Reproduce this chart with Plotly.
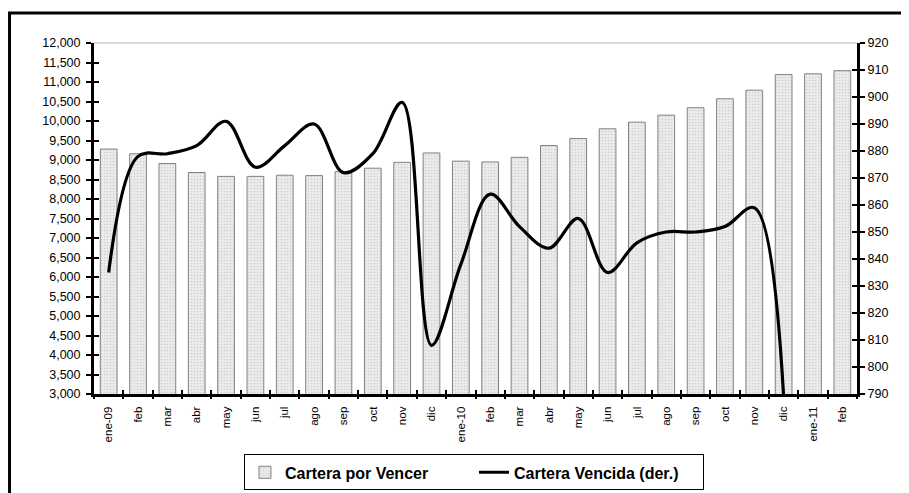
import plotly.graph_objects as go

categories = ["ene-09", "feb", "mar", "abr", "may", "jun", "jul", "ago", "sep", "oct", "nov", "dic",
              "ene-10", "feb", "mar", "abr", "may", "jun", "jul", "ago", "sep", "oct", "nov", "dic",
              "ene-11", "feb"]
cartera_por_vencer = [9280, 9160, 8910, 8680, 8580, 8580, 8610, 8600, 8700, 8790, 8940, 9180,
                      8970, 8950, 9070, 9370, 9550, 9800, 9970, 10150, 10340, 10570, 10790, 11190,
                      11210, 11290]
cartera_vencida = [835, 878, 879, 882, 891, 874, 882, 890, 872, 879, 898, 808,
                   838, 864, 852, 844, 855, 835, 846, 850, 850, 852, 859, 789,
                   None, None]

FONT = "Liberation Sans, Arial, sans-serif"
idx = list(range(len(categories)))
xr = [-0.5, len(categories) - 0.5]
bounds = [i - 0.5 for i in range(len(categories) + 1)]

fig = go.Figure()
fig.add_trace(go.Bar(
    x=idx, y=cartera_por_vencer, name="Cartera por Vencer",
    marker=dict(color="#e6e6e6", line=dict(color="#808080", width=1),
                pattern=dict(shape=".", size=3, solidity=0.25, fgcolor="#b4b4b4", bgcolor="#ececec")),
    yaxis="y",
))
fig.add_trace(go.Scatter(
    x=idx, y=cartera_vencida, name="Cartera Vencida (der.)", mode="lines",
    line=dict(color="black", width=3.2, shape="spline", smoothing=1.0),
    yaxis="y2", connectgaps=False,
))
# helper (empty) traces so the overlay tick axes are drawn
for xa, ya in [("x2", "y"), ("x3", "y"), ("x", "y3"), ("x", "y4")]:
    fig.add_trace(go.Scatter(x=[None], y=[None], xaxis=xa, yaxis=ya, showlegend=False,
                             hoverinfo="skip", mode="lines"))

axis_common = dict(showgrid=False, zeroline=False, automargin=False)
fig.update_layout(
    width=901, height=485,
    margin=dict(l=86, r=52, t=35, b=99, autoexpand=False),
    paper_bgcolor="white", plot_bgcolor="white",
    font=dict(family=FONT, size=12, color="black"),
    bargap=0.43,
    showlegend=True,
    legend=dict(orientation="h", x=0.498, xanchor="center", y=-0.172, yanchor="top",
                bordercolor="black", borderwidth=1,
                font=dict(family=FONT, size=16, color="black", weight="bold"),
                itemwidth=30, entrywidth=184, tracegroupgap=0),
    xaxis=dict(range=xr, tickmode="array", tickvals=idx, ticktext=categories, ticks="",
               tickangle=-90, showline=True, linecolor="black", linewidth=3,
               tickfont=dict(size=11.5), ticklabelstandoff=5, **axis_common),
    xaxis2=dict(overlaying="x", anchor="y", range=xr, tickmode="array", tickvals=bounds,
                ticks="outside", ticklen=4, tickwidth=2, tickcolor="black",
                showticklabels=False, showline=False, **axis_common),
    xaxis3=dict(overlaying="x", anchor="y", range=xr, tickmode="array", tickvals=bounds,
                ticks="inside", ticklen=4, tickwidth=2, tickcolor="black",
                showticklabels=False, showline=False, **axis_common),
    yaxis=dict(range=[3000, 12000], dtick=500, tick0=3000, tickformat=",", ticks="outside",
               ticklen=5, tickwidth=2, tickcolor="black", showline=True, linecolor="black",
               linewidth=3, tickfont=dict(size=12.5), ticklabelstandoff=3, **axis_common),
    yaxis2=dict(overlaying="y", side="right", anchor="x", range=[790, 920], dtick=10, tick0=790,
                ticks="outside", ticklen=5, tickwidth=2, tickcolor="black", showline=True,
                linecolor="black", linewidth=3, tickfont=dict(size=12.5), **axis_common),
    yaxis3=dict(overlaying="y", side="left", anchor="x", range=[3000, 12000], dtick=500, tick0=3000,
                ticks="inside", ticklen=5, tickwidth=2, tickcolor="black", showticklabels=False,
                showline=False, **axis_common),
    yaxis4=dict(overlaying="y", side="right", anchor="x", range=[790, 920], dtick=10, tick0=790,
                ticks="inside", ticklen=5, tickwidth=2, tickcolor="black", showticklabels=False,
                showline=False, **axis_common),
    shapes=[
        dict(type="line", xref="paper", yref="paper", x0=0, x1=1, y0=1, y1=1,
             line=dict(color="#b0b0b0", width=1)),
        dict(type="rect", xref="paper", yref="paper", x0=-0.1107, x1=1.2, y0=-0.5, y1=1.0855,
             line=dict(color="black", width=3)),
    ],
)

fig.write_html("out.html")
